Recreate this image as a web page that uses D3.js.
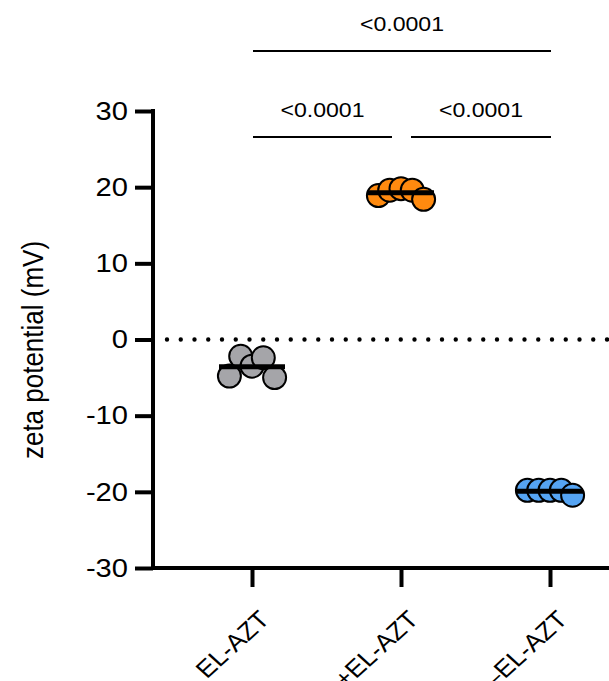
<!DOCTYPE html>
<html>
<head>
<meta charset="utf-8">
<script src="https://cdn.jsdelivr.net/npm/d3@7"></script>
<style>
  html, body { margin: 0; padding: 0; background: #fff; }
  svg { display: block; }
  text { font-family: "Liberation Sans", Arial, Helvetica, sans-serif; fill: #000; }
</style>
</head>
<body>
<svg id="chart" width="609" height="681"></svg>
<script>
// ---------------- data ----------------
const categories = ["EL-AZT", "+EL-AZT", "\u2013EL-AZT"];
const grayValues   = [-4.8, -2.2, -3.5, -2.4, -5.0];
const orangeValues = [18.9, 19.6, 19.8, 19.6, 18.4];
const blueValues   = [-19.8, -19.8, -19.8, -19.8, -20.45];
const seriesValues = [grayValues, orangeValues, blueValues];
const seriesColors = ["#a5a5a9", "#ff8a0f", "#55a4f3"];
const yTicks = [-30, -20, -10, 0, 10, 20, 30];
const yTitle = "zeta potential (mV)";
// comparisons
const compA = [0, 1, 0];
const compB = [1, 2, 2];
const compLabels = ["<0.0001", "<0.0001", "<0.0001"];
const compLevels = [0, 0, 1];

// ---------------- layout ----------------
const svg = d3.select("#chart");
const axisX = 153, axisBottom = 568, axisTop = 111;
const y = d3.scaleLinear().domain([-30, 30]).range([axisBottom, axisTop]);
const x = d3.scalePoint().domain(categories).range([252, 550]);
const stretchX = 1.12;

function stretch(sel, k) {
  sel.each(function () {
    const L = this.getComputedTextLength();
    this.setAttribute("textLength", L * k);
    this.setAttribute("lengthAdjust", "spacingAndGlyphs");
  });
}

// dotted zero line
svg.append("line")
  .attr("x1", 167).attr("x2", 612)
  .attr("y1", y(0)).attr("y2", y(0))
  .attr("stroke", "#000").attr("stroke-width", 4.4)
  .attr("stroke-linecap", "round")
  .attr("stroke-dasharray", "0 13.75");

// y axis
const yAxis = svg.append("g")
  .attr("transform", `translate(${axisX},0)`)
  .call(d3.axisLeft(y).tickValues(yTicks).tickSize(18).tickSizeOuter(0).tickPadding(7));
yAxis.select(".domain").attr("stroke", "#000").attr("stroke-width", 4)
  .attr("d", `M0,${axisTop - 2}V${axisBottom}`);
yAxis.selectAll(".tick line").attr("stroke", "#000").attr("stroke-width", 4);
yAxis.selectAll(".tick text")
  .attr("font-size", 26).attr("fill", "#000")
  .attr("font-family", '"Liberation Sans", Arial, sans-serif')
  .text(d => d)
  .call(stretch, stretchX);

// x axis
svg.append("line")
  .attr("x1", axisX - 2).attr("x2", 615)
  .attr("y1", axisBottom).attr("y2", axisBottom)
  .attr("stroke", "#000").attr("stroke-width", 4);
const xAxis = svg.append("g")
  .attr("transform", `translate(0,${axisBottom})`)
  .call(d3.axisBottom(x).tickSize(19).tickSizeOuter(0));
xAxis.select(".domain").remove();
xAxis.selectAll(".tick line").attr("stroke", "#000").attr("stroke-width", 4);
xAxis.selectAll(".tick text").remove();

// category labels (rotated)
svg.append("g").selectAll("text")
  .data(categories).join("text")
  .attr("transform", d => `translate(${x(d) + 19},${621}) scale(1.1,1) rotate(-45)`)
  .attr("text-anchor", "end")
  .attr("font-size", 24)
  .text(d => d);

// points
const spacing = 11.3;
const r = 11.5;
seriesValues.forEach((vals, gi) => {
  const cx = x(categories[gi]);
  const g = svg.append("g");
  g.selectAll("circle")
    .data(vals).join("circle")
    .attr("cx", (d, i) => cx + (i - (vals.length - 1) / 2) * spacing)
    .attr("cy", d => y(d))
    .attr("r", r)
    .attr("fill", seriesColors[gi])
    .attr("stroke", "#000")
    .attr("stroke-width", 2);
  const m = d3.mean(vals);
  g.append("line")
    .attr("x1", cx - 33).attr("x2", cx + 33)
    .attr("y1", y(m)).attr("y2", y(m))
    .attr("stroke", "#000").attr("stroke-width", 5);
});

// significance brackets
const sig = svg.append("g");
compLabels.forEach((lab, k) => {
  const a = compA[k], b = compB[k], lev = compLevels[k];
  const barY = 137 - lev * 86;
  const sharedLeft = compLevels.some((l, j) => j !== k && l === lev && compB[j] === a);
  const sharedRight = compLevels.some((l, j) => j !== k && l === lev && compA[j] === b);
  const x1 = x(categories[a]) + (sharedLeft ? 10 : 1);
  const x2 = x(categories[b]) - (sharedRight ? 9 : -1);
  sig.append("line")
    .attr("x1", x1).attr("x2", x2)
    .attr("y1", barY).attr("y2", barY)
    .attr("stroke", "#000").attr("stroke-width", 2);
  sig.append("text")
    .attr("x", (x1 + x2) / 2).attr("y", barY - 20)
    .attr("text-anchor", "middle")
    .attr("font-size", 21)
    .text(lab)
    .call(stretch, 1.1);
});

// y title
svg.append("text")
  .attr("transform", `translate(43,350) scale(1.12,1) rotate(-90)`)
  .attr("text-anchor", "middle")
  .attr("font-size", 26)
  .text(yTitle);
</script>
</body>
</html>
